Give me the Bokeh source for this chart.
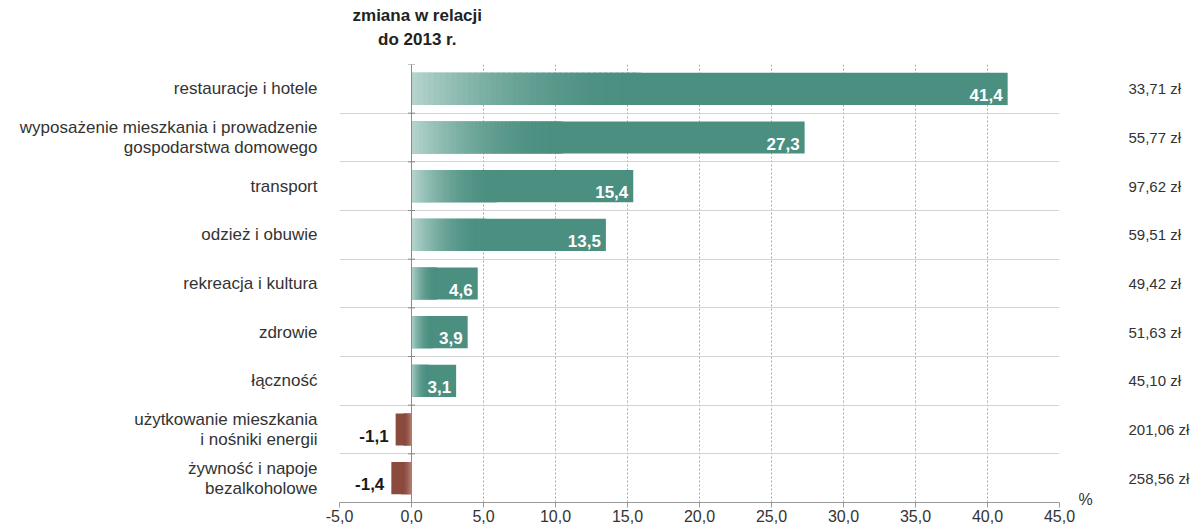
from bokeh.plotting import figure
from bokeh.models import (ColumnDataSource, LabelSet, Span, FixedTicker,
                          CustomJSTickFormatter, Range1d, LinearAxis)
from bokeh.embed import file_html
from bokeh.resources import INLINE
from bokeh.core.properties import value

# ---------------- data ----------------
categories = [
    "restauracje i hotele",
    "wyposażenie mieszkania i prowadzenie\ngospodarstwa domowego",
    "transport",
    "odzież i obuwie",
    "rekreacja i kultura",
    "zdrowie",
    "łączność",
    "użytkowanie mieszkania\ni nośniki energii",
    "żywność i napoje\nbezalkoholowe",
]
changes = [41.4, 27.3, 15.4, 13.5, 4.6, 3.9, 3.1, -1.1, -1.4]
amounts = ["33,71 zł", "55,77 zł", "97,62 zł", "59,51 zł", "49,42 zł",
           "51,63 zł", "45,10 zł", "201,06 zł", "258,56 zł"]
x_ticks = [-5, 0, 5, 10, 15, 20, 25, 30, 35, 40, 45]
title_text = "zmiana w relacji\ndo 2013 r."
unit_text = "%"

# ---------------- styles ----------------
FONT = "Liberation Sans"
TEAL = (74, 143, 128)
TEAL_LIGHT = (182, 213, 206)
BROWN = (139, 74, 62)
BROWN_LIGHT = (190, 142, 128)
BAR_H = 0.66

def hexc(c):
    return "#%02x%02x%02x" % tuple(int(round(v)) for v in c)

def lerp(a, b, t):
    return tuple(a[j] + (b[j] - a[j]) * t for j in range(3))

n = len(categories)
ys = [n - i - 0.5 for i in range(n)]

p = figure(width=1192, height=530,
           x_range=Range1d(x_ticks[0], x_ticks[-1]), y_range=Range1d(0, n),
           y_axis_location=None, toolbar_location=None, output_backend="svg",
           min_border_left=339, min_border_right=132, min_border_top=64,
           min_border_bottom=28)
p.outline_line_color = None
p.background_fill_color = "white"
p.border_fill_color = "white"

# grids
p.xgrid.ticker = FixedTicker(ticks=x_ticks)
p.xgrid.grid_line_color = "#a8a8a8"
p.xgrid.grid_line_dash = "2 2"
p.xgrid.grid_line_width = 1
p.ygrid.ticker = FixedTicker(ticks=list(range(1, n + 1)))
p.ygrid.grid_line_color = "#d4d4d4"
p.ygrid.grid_line_width = 1

# x axis
ax = p.xaxis[0]
ax.ticker = FixedTicker(ticks=x_ticks)
ax.formatter = CustomJSTickFormatter(code="return tick.toFixed(1).replace('.', ',');")
ax.axis_line_color = "#9a9a9a"
ax.major_tick_line_color = "#9a9a9a"
ax.major_tick_out = 5
ax.major_tick_in = 0
ax.minor_tick_line_color = None
ax.major_label_text_font = FONT
ax.major_label_text_font_size = "16px"
ax.major_label_text_color = "#333333"
ax.major_label_standoff = 2

def label_axis(ticks, labels, standoff, size="16px", style="normal", color="#333333"):
    a = LinearAxis(ticker=FixedTicker(ticks=ticks),
                   major_label_overrides={t: s for t, s in zip(ticks, labels)})
    a.axis_line_color = None
    a.major_tick_line_color = None
    a.minor_tick_line_color = None
    a.major_label_standoff = standoff
    a.major_label_text_font = FONT
    a.major_label_text_font_size = size
    a.major_label_text_font_style = style
    a.major_label_text_color = color
    return a

# category labels (left)
left_ax = label_axis(ys, categories, 16, size="17px")
left_ax.major_label_text_line_height = 1.05
p.add_layout(left_ax, "left")

# unit "%" next to the end of x axis, then amounts on the right
unit_ax = label_axis([0.06], [unit_text], 13, size="16px")
p.add_layout(unit_ax, "right")
amt_ax = label_axis(ys, amounts, 27, size="15px")
p.add_layout(amt_ax, "right")

# title above the zero line
top_ax = label_axis([0.4], [title_text], 10, size="17px", style="bold", color="#222222")
top_ax.major_label_text_line_height = 1.25
p.add_layout(top_ax, "above")

# bars: base solid + gradient slices (eased)
base = dict(y=[], left=[], right=[], color=[])
grad = dict(y=[], left=[], right=[], color=[])
NSEG = 40
for yc, v in zip(ys, changes):
    base["y"].append(yc)
    if v >= 0:
        base["left"].append(0); base["right"].append(v); base["color"].append(hexc(TEAL))
        g = 0.38 * v
        step = g / NSEG
        for k in range(NSEG):
            t = (k + 0.5) / NSEG
            grad["y"].append(yc)
            grad["left"].append(k * step)
            grad["right"].append((k + 1.6) * step)
            grad["color"].append(hexc(lerp(TEAL_LIGHT, TEAL, 1 - (1 - t) ** 2)))
    else:
        base["left"].append(v); base["right"].append(0); base["color"].append(hexc(BROWN))
        g = 0.5 * abs(v)
        start = -g
        step = g / NSEG
        for k in range(NSEG):
            t = (k + 0.5) / NSEG
            grad["y"].append(yc)
            grad["left"].append(start + k * step)
            grad["right"].append(min(start + (k + 1.6) * step, 0))
            grad["color"].append(hexc(lerp(BROWN, BROWN_LIGHT, t ** 2)))

p.hbar(y="y", left="left", right="right", height=BAR_H, fill_color="color",
       line_color=None, source=ColumnDataSource(base))
p.hbar(y="y", left="left", right="right", height=BAR_H, fill_color="color",
       line_color=None, source=ColumnDataSource(grad))

# zero axis line with small ticks at row boundaries
p.add_layout(Span(location=0, dimension="height", line_color="#8a8a8a", line_width=1))
p.scatter(x=[0] * (n + 1), y=list(range(n + 1)), marker="dash", size=7,
          line_color="#8a8a8a", line_width=1)

# value labels
vtexts = [("%.1f" % v).replace(".", ",") for v in changes]
vcolors = ["white" if v >= 0 else "#1a1a1a" for v in changes]
voff = [-5 if v >= 0 else -7 for v in changes]
val_src = ColumnDataSource(dict(x=changes, y=ys, text=vtexts, color=vcolors, off=voff))
p.add_layout(LabelSet(x="x", y="y", text="text", source=val_src, x_offset="off",
                      y_offset=-6, text_align="right", text_baseline="middle",
                      text_font=value(FONT), text_font_size="17px",
                      text_font_style="bold", text_color="color"))

open("out.html", "w").write(file_html(p, INLINE))
